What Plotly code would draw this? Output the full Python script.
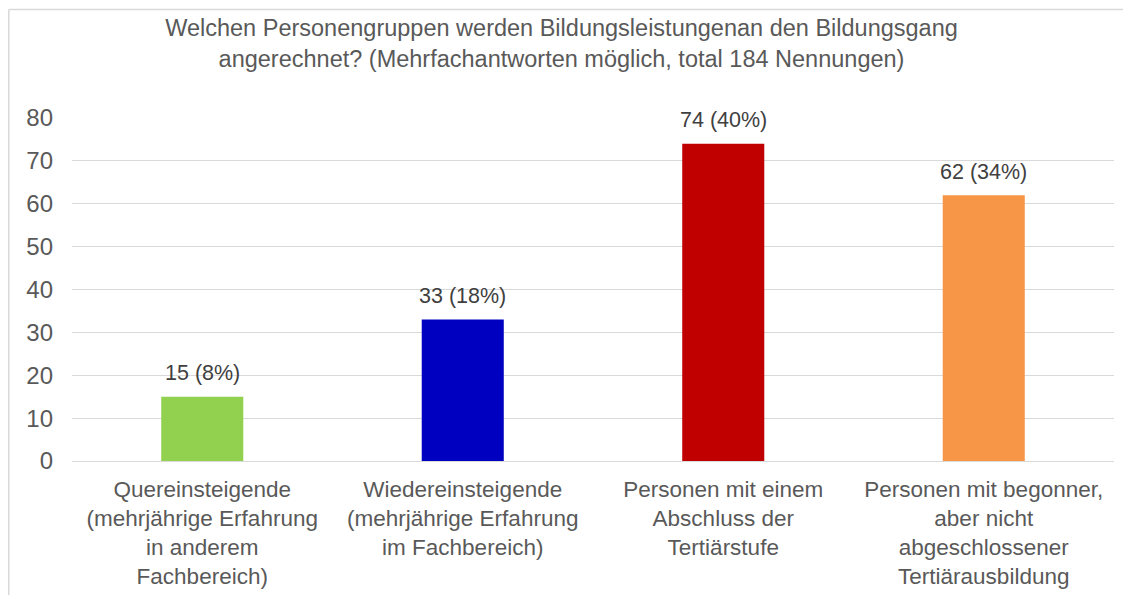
import plotly.graph_objects as go

categories = [
    "Quereinsteigende<br>(mehrjährige Erfahrung<br>in anderem<br>Fachbereich)",
    "Wiedereinsteigende<br>(mehrjährige Erfahrung<br>im Fachbereich)",
    "Personen mit einem<br>Abschluss der<br>Tertiärstufe",
    "Personen mit begonner,<br>aber nicht<br>abgeschlossener<br>Tertiärausbildung",
]
values = [15, 33, 74, 62]
percents = [8, 18, 40, 34]
colors = ["#92D050", "#0000C0", "#C00000", "#F79646"]
title_text = ("Welchen Personengruppen werden Bildungsleistungenan den Bildungsgang<br>"
              "angerechnet? (Mehrfachantworten möglich, total 184 Nennungen)")
y_ticks = [0, 10, 20, 30, 40, 50, 60, 70, 80]

W, H = 1131, 595
L, R, T, B = 64, 25, 110, 142
pw, ph = W - L - R, H - T - B

def px_x(px):
    return (px - L) / pw

def px_y(py):
    return (H - B - py) / ph

FONT = "Liberation Sans, Arial, sans-serif"

fig = go.Figure(
    go.Bar(
        x=categories,
        y=values,
        marker=dict(color=colors, line=dict(width=0)),
        hoverinfo="x+y",
    )
)

annotations = [
    dict(x=c, y=v, xref="x", yref="y", text=f"{v} ({p}%)", showarrow=False,
         yanchor="middle", yshift=23.5,
         font=dict(family=FONT, size=21.5, color="#404040"))
    for c, v, p in zip(categories, values, percents)
]

fig.update_layout(
    width=W,
    height=H,
    margin=dict(l=L, r=R, t=T, b=B),
    paper_bgcolor="white",
    plot_bgcolor="white",
    bargap=0.685,
    showlegend=False,
    font=dict(family=FONT, color="#595959", size=23),
    title=dict(
        text=title_text,
        x=553.5 / W,
        xanchor="center",
        y=1 - 28 / H,
        yanchor="middle",
        font=dict(family=FONT, size=23.5, color="#595959"),
    ),
    xaxis=dict(
        showgrid=False,
        showline=False,
        ticks="",
        tickfont=dict(family=FONT, size=22.5, color="#595959"),
        ticklabelstandoff=12,
    ),
    yaxis=dict(
        range=[0, 80],
        tickvals=y_ticks,
        showgrid=True,
        gridcolor="#D9D9D9",
        gridwidth=1,
        zeroline=True,
        zerolinecolor="#D9D9D9",
        zerolinewidth=1,
        showline=False,
        ticks="",
        tickfont=dict(family=FONT, size=24, color="#595959"),
        ticklabelstandoff=18,
    ),
    annotations=annotations,
    shapes=[
        dict(type="line", xref="paper", yref="paper",
             x0=px_x(0.75), x1=px_x(0.75), y0=px_y(1.5), y1=px_y(H + 5),
             line=dict(color="#D9D9D9", width=1.5)),
        dict(type="line", xref="paper", yref="paper",
             x0=px_x(0.75), x1=px_x(W + 5), y0=px_y(1.5), y1=px_y(1.5),
             line=dict(color="#D9D9D9", width=1.5)),
    ],
)

fig.write_html("out.html")
